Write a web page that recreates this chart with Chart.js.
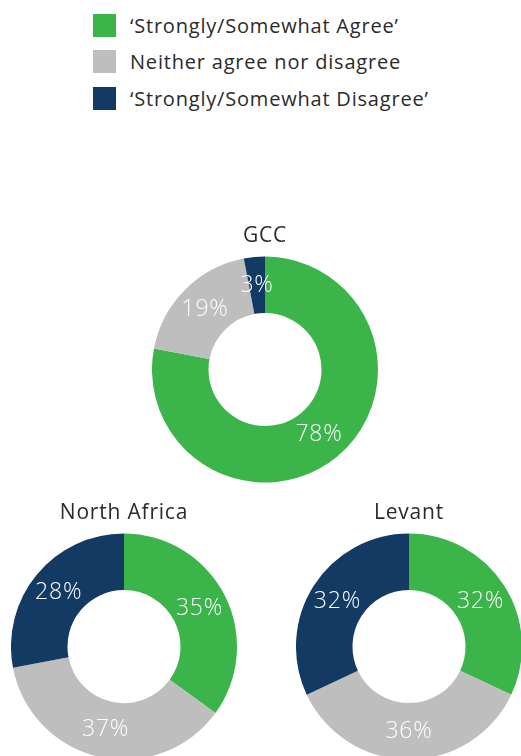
<!DOCTYPE html>
<html>
<head>
<meta charset="utf-8">
<script src="https://cdn.jsdelivr.net/npm/chart.js@4.4.1/dist/chart.umd.min.js"></script>
<style>
  html, body { margin: 0; padding: 0; background: #fff; overflow: hidden; }
  body { width: 521px; height: 756px; position: relative; font-family: 'Open Sans', sans-serif; }
  #legenda { position: absolute; left: 93px; top: 7px; }
  .item { display: flex; align-items: center; height: 36.5px; }
  .quadrado { width: 23px; height: 23px; margin-right: 14px; }
  .texto { font-size: 20px; letter-spacing: 0.8px; color: #2b2b2b; white-space: nowrap; }
  canvas { position: absolute; }
</style>
</head>
<body>
<div id="legenda"></div>
<canvas id="graficoGCC" width="226" height="260" style="left:152px; top:223px;"></canvas>
<canvas id="graficoNorthAfrica" width="226" height="260" style="left:11px; top:500px;"></canvas>
<canvas id="graficoLevant" width="226" height="260" style="left:296px; top:500px;"></canvas>
<script>
// Dados das respostas (percentuais)
const categorias = ['\u2018Strongly/Somewhat Agree\u2019', 'Neither agree nor disagree', '\u2018Strongly/Somewhat Disagree\u2019'];
const cores = ['#3bb54a', '#bebebe', '#123a63'];

const regioes = ['GCC', 'North Africa', 'Levant'];
const valoresGCC = [78, 19, 3];
const valoresNorthAfrica = [35, 37, 28];
const valoresLevant = [32, 36, 32];

// Legenda em HTML
const legenda = document.getElementById('legenda');
categorias.forEach((nome, i) => {
    const item = document.createElement('div');
    item.className = 'item';
    item.innerHTML = `<div class="quadrado" style="background:${cores[i]}"></div><span class="texto">${nome}</span>`;
    legenda.appendChild(item);
});

// Plugin para escrever o percentual dentro de cada fatia
const rotulosPercentuais = {
    id: 'rotulosPercentuais',
    afterDatasetsDraw(chart) {
        const ctx = chart.ctx;
        const meta = chart.getDatasetMeta(0);
        ctx.save();
        ctx.fillStyle = '#ffffff';
        ctx.font = '300 23px "Open Sans", sans-serif';
        ctx.textAlign = 'center';
        ctx.textBaseline = 'middle';
        meta.data.forEach((arco, i) => {
            const pos = arco.tooltipPosition();
            ctx.fillText(chart.data.datasets[0].data[i] + '%', pos.x, pos.y);
        });
        ctx.restore();
    }
};

// Espaçamento das letras do título, como no original
const espacoTitulo = {
    id: 'espacoTitulo',
    beforeDraw(chart) { chart.ctx.letterSpacing = '0.8px'; },
    afterDraw(chart) { chart.ctx.letterSpacing = '0px'; }
};

function gerarRosca(idCanvas, titulo, valores) {
    const ctx = document.getElementById(idCanvas).getContext('2d');
    new Chart(ctx, {
        type: 'doughnut',
        data: {
            labels: categorias,
            datasets: [{
                data: valores,
                backgroundColor: cores,
                borderWidth: 0
            }]
        },
        options: {
            responsive: false,
            animation: false,
            cutout: '50%',
            layout: { padding: 0 },
            plugins: {
                legend: { display: false },
                tooltip: { enabled: false },
                title: {
                    display: true,
                    text: titulo,
                    color: '#2b2b2b',
                    font: { family: "'Open Sans', sans-serif", size: 21, weight: 'normal', lineHeight: 1.2 },
                    padding: { top: 0, bottom: 8 }
                }
            }
        },
        plugins: [espacoTitulo, rotulosPercentuais]
    });
}

gerarRosca('graficoGCC', regioes[0], valoresGCC);
gerarRosca('graficoNorthAfrica', regioes[1], valoresNorthAfrica);
gerarRosca('graficoLevant', regioes[2], valoresLevant);
</script>
</body>
</html>
